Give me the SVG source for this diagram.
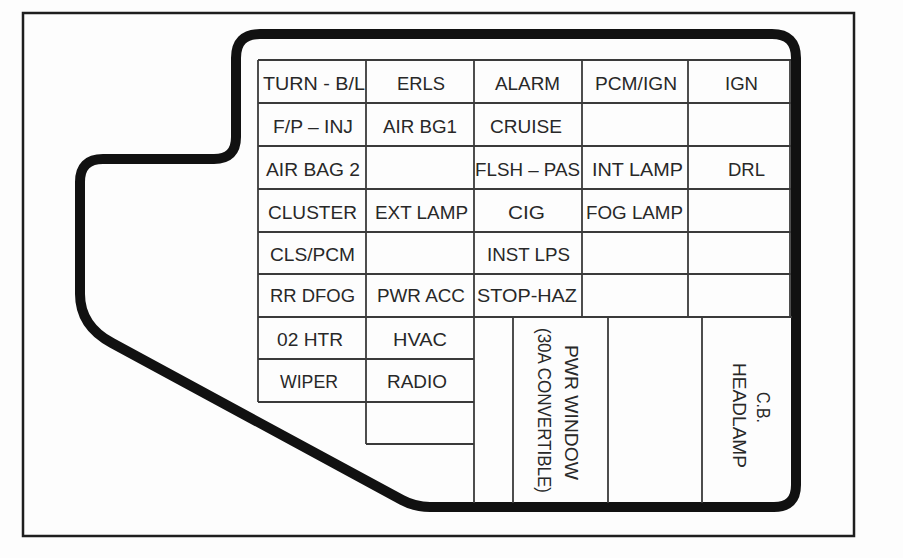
<svg xmlns="http://www.w3.org/2000/svg" width="903" height="558" viewBox="0 0 903 558">
<style>
.frame{fill:none;stroke:#1e1e1e;stroke-width:2.5}
.body{fill:none;stroke:#111;stroke-width:10;stroke-linejoin:round;stroke-linecap:round}
.grid line{stroke:#3a3a3a;stroke-width:1.8}
text{font-family:"Liberation Sans",Arial,Helvetica,sans-serif;font-size:17.5px;fill:#282828;text-anchor:middle}
</style>
<rect x="0" y="0" width="903" height="558" fill="#fdfdfd"/>
<rect class="frame" x="23" y="13" width="831" height="523"/>
<path id="fuse-block-outline" class="body" d="M 236,137 L 236,58 Q 236,34 260,34 L 772,34 Q 796,34 796,58 L 796,485 Q 796,507 774,507 L 430,507 Q 415,507 402,500 L 112,343 Q 80,326 80,294 L 80,182 Q 80,159 103,159 L 214,159 Q 236,159 236,137 Z"/>
<g id="grid" class="grid">
<line x1="258" y1="60" x2="791" y2="60"/>
<line x1="258" y1="103" x2="791" y2="103"/>
<line x1="258" y1="146" x2="791" y2="146"/>
<line x1="258" y1="189" x2="791" y2="189"/>
<line x1="258" y1="232" x2="791" y2="232"/>
<line x1="258" y1="274" x2="791" y2="274"/>
<line x1="258" y1="317" x2="792" y2="317"/>
<line x1="258" y1="359" x2="474" y2="359"/>
<line x1="258" y1="402" x2="474" y2="402"/>
<line x1="366" y1="444" x2="474" y2="444"/>
<line x1="258" y1="60" x2="258" y2="402"/>
<line x1="366" y1="60" x2="366" y2="444"/>
<line x1="474" y1="60" x2="474" y2="503"/>
<line x1="582" y1="60" x2="582" y2="317"/>
<line x1="688" y1="60" x2="688" y2="317"/>
<line x1="790" y1="60" x2="790" y2="317"/>
<line x1="513" y1="317" x2="513" y2="503"/>
<line x1="608" y1="317" x2="608" y2="503"/>
<line x1="702" y1="317" x2="702" y2="503"/>
</g>
<g id="r1">
<g id="turn-bl"><text x="314" y="90" textLength="102" lengthAdjust="spacingAndGlyphs">TURN - B/L</text></g>
<g id="erls"><text x="421" y="90" textLength="48" lengthAdjust="spacingAndGlyphs">ERLS</text></g>
<g id="alarm"><text x="527.5" y="90" textLength="65" lengthAdjust="spacingAndGlyphs">ALARM</text></g>
<g id="pcm-ign"><text x="636" y="90" textLength="82" lengthAdjust="spacingAndGlyphs">PCM/IGN</text></g>
<g id="ign"><text x="741.5" y="90" textLength="33" lengthAdjust="spacingAndGlyphs">IGN</text></g>
</g>
<g id="r2">
<g id="fp-inj"><text x="313" y="133" textLength="80" lengthAdjust="spacingAndGlyphs">F/P – INJ</text></g>
<g id="air-bg1"><text x="420" y="133" textLength="74" lengthAdjust="spacingAndGlyphs">AIR BG1</text></g>
<g id="cruise"><text x="526" y="133" textLength="72" lengthAdjust="spacingAndGlyphs">CRUISE</text></g>
</g>
<g id="r3">
<g id="air-bag-2"><text x="313" y="176" textLength="94" lengthAdjust="spacingAndGlyphs">AIR BAG 2</text></g>
<g id="flsh-pas"><text x="527.5" y="176" textLength="105" lengthAdjust="spacingAndGlyphs">FLSH – PAS</text></g>
<g id="int-lamp"><text x="637.5" y="176" textLength="91" lengthAdjust="spacingAndGlyphs">INT LAMP</text></g>
<g id="drl"><text x="746.5" y="176" textLength="37" lengthAdjust="spacingAndGlyphs">DRL</text></g>
</g>
<g id="r4">
<g id="cluster"><text x="312.5" y="219" textLength="89" lengthAdjust="spacingAndGlyphs">CLUSTER</text></g>
<g id="ext-lamp"><text x="421.5" y="219" textLength="93" lengthAdjust="spacingAndGlyphs">EXT LAMP</text></g>
<g id="cig"><text x="526.5" y="219" textLength="37" lengthAdjust="spacingAndGlyphs">CIG</text></g>
<g id="fog-lamp"><text x="634.5" y="219" textLength="97" lengthAdjust="spacingAndGlyphs">FOG LAMP</text></g>
</g>
<g id="r5">
<g id="cls-pcm"><text x="312.5" y="261" textLength="85" lengthAdjust="spacingAndGlyphs">CLS/PCM</text></g>
<g id="inst-lps"><text x="528.5" y="261" textLength="83" lengthAdjust="spacingAndGlyphs">INST LPS</text></g>
</g>
<g id="r6">
<g id="rr-dfog"><text x="312.5" y="302" textLength="85" lengthAdjust="spacingAndGlyphs">RR DFOG</text></g>
<g id="pwr-acc"><text x="421" y="302" textLength="88" lengthAdjust="spacingAndGlyphs">PWR ACC</text></g>
<g id="stop-haz"><text x="527" y="302" textLength="100" lengthAdjust="spacingAndGlyphs">STOP-HAZ</text></g>
</g>
<g id="r7">
<g id="o2-htr"><text x="310" y="346" textLength="66" lengthAdjust="spacingAndGlyphs">02 HTR</text></g>
<g id="hvac"><text x="420" y="346" textLength="54" lengthAdjust="spacingAndGlyphs">HVAC</text></g>
</g>
<g id="r8">
<g id="wiper"><text x="309" y="388" textLength="58" lengthAdjust="spacingAndGlyphs">WIPER</text></g>
<g id="radio"><text x="417" y="388" textLength="60" lengthAdjust="spacingAndGlyphs">RADIO</text></g>
</g>
<g id="pwr-window">
<text transform="translate(565,412.5) rotate(90)" textLength="135" lengthAdjust="spacingAndGlyphs">PWR WINDOW</text>
<text transform="translate(538,410.5) rotate(90)" textLength="165" lengthAdjust="spacingAndGlyphs">(30A CONVERTIBLE)</text>
</g>
<g id="cb-headlamp">
<text transform="translate(757,407.5) rotate(90)" textLength="31" lengthAdjust="spacingAndGlyphs">C.B.</text>
<text transform="translate(733,415.5) rotate(90)" textLength="105" lengthAdjust="spacingAndGlyphs">HEADLAMP</text>
</g>
</svg>
